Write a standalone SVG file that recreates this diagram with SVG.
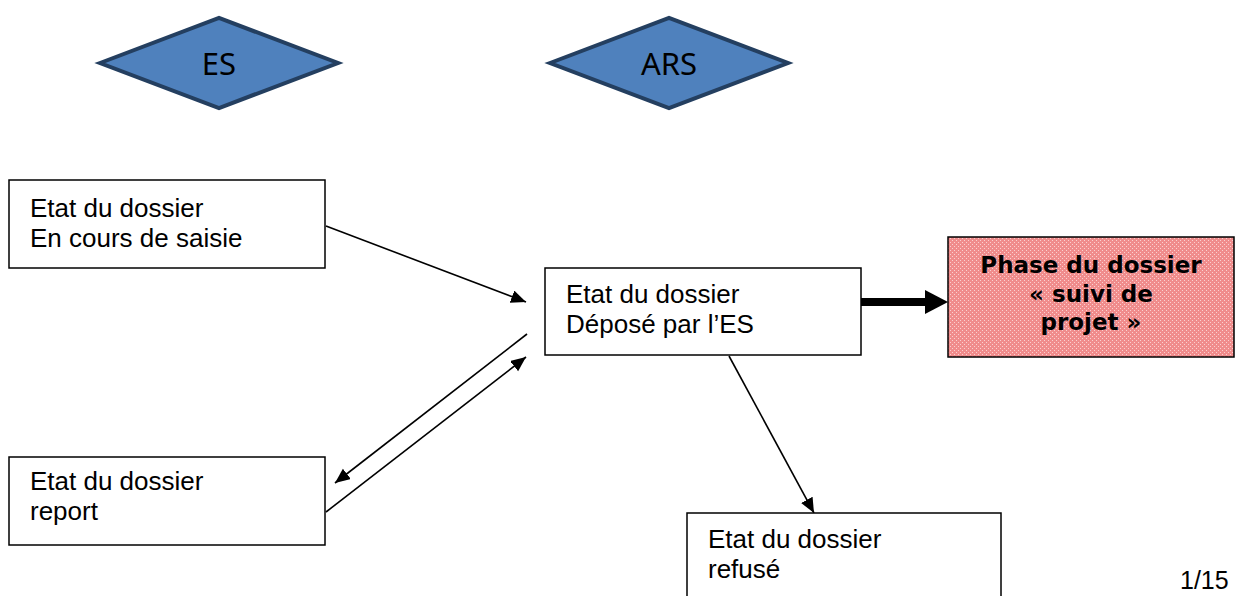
<svg xmlns="http://www.w3.org/2000/svg" width="1235" height="596" viewBox="0 0 1235 596">
<style>
.dia{fill:#4F81BD;stroke:#243F60;stroke-width:4;stroke-linejoin:miter}
.dt{font-family:"Noto Sans","Open Sans",sans-serif;font-size:31px;fill:#000;text-anchor:middle}
.box{fill:#fff;stroke:#000;stroke-width:1.5}
.t{font-family:"Liberation Sans",Arial,sans-serif;font-size:26px;fill:#000}
.pt{font-family:"DejaVu Sans",Verdana,sans-serif;font-weight:bold;font-size:23px;fill:#000;text-anchor:middle}
.ln{stroke:#000;stroke-width:1.6;fill:none;marker-end:url(#ah)}
</style>
<defs>
<marker id="ah" markerUnits="userSpaceOnUse" markerWidth="16" markerHeight="14" refX="15" refY="6.5" orient="auto">
<path d="M0,0 L15,6.5 L0,13 z" fill="#000"/>
</marker>
<pattern id="pk" width="4" height="4" patternUnits="userSpaceOnUse">
<rect width="4" height="4" fill="#F08C8C"/>
<rect x="0" y="0" width="1" height="1" fill="#FBD0D0"/>
<rect x="2" y="2" width="1" height="1" fill="#FBD0D0"/>
</pattern>
</defs>
<rect width="1235" height="596" fill="#fff"/>
<g id="es">
<polygon class="dia" points="100,63 219,18 338,63 219,108"/>
<text class="dt" x="219" y="75">ES</text>
</g>
<g id="ars">
<polygon class="dia" points="550,63 669,18 788,63 669,108"/>
<text class="dt" x="669" y="75">ARS</text>
</g>
<g id="connectors">
<line class="ln" x1="326" y1="226" x2="526" y2="302"/>
<line class="ln" x1="527" y1="334" x2="335" y2="483"/>
<line class="ln" x1="326" y1="512" x2="526" y2="357"/>
<line class="ln" x1="729" y1="356" x2="814" y2="513"/>
<line x1="861" y1="302" x2="927" y2="302" stroke="#000" stroke-width="8"/>
<polygon points="925,290 948,302 925,314" fill="#000"/>
</g>
<g id="saisie">
<rect class="box" x="9" y="180" width="316" height="88"/>
<text class="t" x="30" y="217">Etat du dossier</text>
<text class="t" x="30" y="247">En cours de saisie</text>
</g>
<g id="depose">
<rect class="box" x="545" y="268" width="316" height="87"/>
<text class="t" x="566" y="303">Etat du dossier</text>
<text class="t" x="566" y="333">Déposé par l’ES</text>
</g>
<g id="report">
<rect class="box" x="9" y="457" width="316" height="88"/>
<text class="t" x="30" y="490">Etat du dossier</text>
<text class="t" x="30" y="520">report</text>
</g>
<g id="refuse">
<rect class="box" x="687" y="513" width="314" height="100"/>
<text class="t" x="708" y="548">Etat du dossier</text>
<text class="t" x="708" y="578">refusé</text>
</g>
<g id="suivi">
<rect x="948" y="237" width="286" height="120" fill="url(#pk)" stroke="#000" stroke-width="1.5"/>
<text class="pt" x="1091" y="273">Phase du dossier</text>
<text class="pt" x="1091" y="302">« suivi de</text>
<text class="pt" x="1091" y="330">projet »</text>
</g>
<text class="t" x="1180" y="589" style="font-size:25px">1/15</text>
</svg>
